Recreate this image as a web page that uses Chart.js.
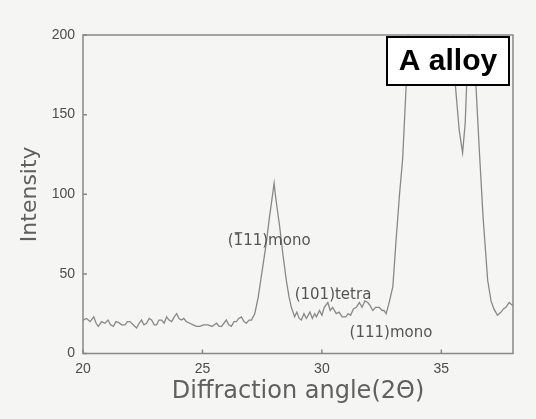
<!DOCTYPE html>
<html>
<head>
<meta charset="utf-8">
<script src="https://cdn.jsdelivr.net/npm/chart.js@4.4.0/dist/chart.umd.min.js"></script>
<style>
  body { margin: 0; background: #f5f5f3; }
  canvas { display: block; }
</style>
</head>
<body>
<canvas id="xrd" width="536" height="419"></canvas>
<script>
  // 회절각 (2θ) 와 강도 값 - 그림에서 읽은 값
  const angles = [
    20.0, 20.15, 20.3, 20.45, 20.55, 20.64, 20.78, 20.92, 21.05, 21.15, 21.27, 21.38, 21.48, 21.62, 21.76, 21.86, 21.96,
    22.1, 22.24, 22.35, 22.45, 22.55, 22.66, 22.77, 22.87, 22.98, 23.08, 23.18, 23.29, 23.4, 23.5, 23.6, 23.71, 23.82, 23.92,
    24.02, 24.12, 24.22, 24.33, 24.47, 24.61, 24.75, 24.89, 25.05, 25.24, 25.4, 25.59, 25.7, 25.8, 25.9, 26.0, 26.1, 26.21,
    26.32, 26.42, 26.52, 26.63, 26.74, 26.84, 26.95, 27.05, 27.12, 27.19, 27.33, 27.5, 27.67, 27.8, 27.92, 28.0, 28.05,
    28.12, 28.23, 28.37, 28.51, 28.62, 28.72, 28.86, 28.95, 29.05, 29.14, 29.25, 29.35, 29.5, 29.6, 29.7, 29.77, 29.9,
    30.0, 30.1, 30.25, 30.35, 30.45, 30.6, 30.72, 30.85, 31.0, 31.1, 31.2, 31.32, 31.44, 31.57, 31.68, 31.8, 31.92, 32.02,
    32.13, 32.25, 32.4, 32.52, 32.6, 32.69, 32.8, 32.97, 33.1, 33.25, 33.38, 33.53, 33.65, 33.8, 34.0, 34.5, 35.0, 35.3,
    35.45, 35.59, 35.75, 35.89, 36.0, 36.1, 36.2, 36.3, 36.45, 36.6, 36.75, 36.94, 37.08, 37.2, 37.35, 37.5, 37.6, 37.7,
    37.84, 38.0
  ];
  const intensity = [
    21, 22, 20, 23, 19, 17, 20, 19, 21, 18, 17, 20, 19.5, 18, 18, 20, 20,
    18, 16, 19, 21, 18, 19, 22, 21, 18, 18, 21, 21, 19, 23, 21, 20, 23, 25,
    22, 21, 22, 20, 19, 18, 17, 17, 18, 18, 17, 19, 17, 17, 19, 21, 18, 17,
    20, 20, 22, 23, 20, 19, 21, 21, 23, 25, 35, 52, 69, 85, 98, 107, 100,
    92, 80, 62, 46, 36, 29, 23, 26, 22, 21, 25, 22, 26, 22, 25, 23, 27,
    24, 29, 32, 27, 29, 25, 26, 23, 23, 25, 24, 28, 29, 32, 29, 33, 32, 30,
    27, 29, 29, 27, 27, 25, 31, 42, 70, 100, 122, 169, 215, 260, 290, 300, 280, 240,
    210, 168, 140, 126, 145, 185, 215, 205, 168, 125, 85, 46, 33, 28, 24, 26, 28, 29,
    32, 30
  ];
  const xTicks = [20, 25, 30, 35];
  const yTicks = [0, 50, 100, 150, 200];

  // 피크 라벨 (데이터 좌표), 첫 라벨은 첫 '1' 위에 윗줄
  const peakLabels = ['(111)mono', '(101)tetra', '(111)mono'];
  const peakBar = [true, false, false];
  const peakX = [26.06, 28.86, 31.16];
  const peakY = [70.8, 36.8, 12.9];
  const alloyName = 'A alloy';

  const gray = '#888';
  const textGray = '#4c4c4c';
  const wideFont = '"DejaVu Sans", Verdana, sans-serif';

  const framePlugin = {
    id: 'frame',
    beforeDraw(chart) {
      const c = chart.ctx;
      c.save();
      c.fillStyle = '#f5f5f3';
      c.fillRect(0, 0, chart.width, chart.height);
      c.restore();
    },
    afterDraw(chart) {
      const c = chart.ctx;
      const a = chart.chartArea;
      const xs = chart.scales.x, ys = chart.scales.y;
      c.save();
      // 테두리
      c.strokeStyle = gray;
      c.lineWidth = 1.5;
      c.strokeRect(a.left, a.top, a.right - a.left, a.bottom - a.top);
      // 안쪽 눈금
      c.beginPath();
      xTicks.forEach(v => {
        const px = xs.getPixelForValue(v);
        c.moveTo(px, a.bottom);
        c.lineTo(px, a.bottom - 4);
      });
      yTicks.forEach(v => {
        const py = ys.getPixelForValue(v);
        c.moveTo(a.left, py);
        c.lineTo(a.left + 4, py);
      });
      c.stroke();
      // 피크 라벨
      c.fillStyle = '#555';
      c.strokeStyle = '#555';
      c.lineWidth = 1.2;
      c.font = '15px ' + wideFont;
      c.textBaseline = 'middle';
      c.textAlign = 'left';
      peakLabels.forEach((t, i) => {
        const px = xs.getPixelForValue(peakX[i]);
        const py = ys.getPixelForValue(peakY[i]);
        c.fillText(t, px, py);
        if (peakBar[i]) {
          const x0 = px + c.measureText('(').width;
          const x1 = px + c.measureText('(1').width;
          c.beginPath();
          c.moveTo(x0 + 1, py - 8);
          c.lineTo(x1 - 1, py - 8);
          c.stroke();
        }
      });
      // 합금 이름 상자
      c.fillStyle = '#fff';
      c.fillRect(387, 37, 122, 48);
      c.strokeStyle = '#000';
      c.lineWidth = 2;
      c.strokeRect(387, 37, 122, 48);
      c.fillStyle = '#000';
      c.font = 'bold 30px "Liberation Sans", Arial, sans-serif';
      c.textAlign = 'center';
      c.fillText(alloyName, 448, 62);
      c.restore();
    }
  };

  new Chart(document.getElementById('xrd'), {
    type: 'line',
    data: {
      datasets: [{
        data: angles.map((x, i) => ({ x, y: intensity[i] })),
        borderColor: gray,
        borderWidth: 1.3,
        pointRadius: 0,
        tension: 0
      }]
    },
    options: {
      responsive: false,
      animation: false,
      layout: { padding: { top: 35, right: 23, left: 0, bottom: 0 } },
      plugins: { legend: { display: false }, tooltip: { enabled: false } },
      scales: {
        x: {
          type: 'linear',
          min: 20,
          max: 38,
          afterBuildTicks: s => { s.ticks = xTicks.map(v => ({ value: v })); },
          afterFit: s => { s.height = 65.5; },
          grid: { display: false, drawTicks: false },
          border: { display: false },
          ticks: { padding: 7, color: textGray, font: { family: '"Liberation Sans", Arial', size: 14 } },
          title: {
            display: true,
            text: 'Diffraction angle(2\u0398)',
            color: '#606060',
            font: { family: wideFont, size: 24 },
            padding: { top: 4, bottom: 13 }
          }
        },
        y: {
          min: 0,
          max: 200,
          afterBuildTicks: s => { s.ticks = yTicks.map(v => ({ value: v })); },
          afterFit: s => { s.width = 83; },
          grid: { display: false, drawTicks: false },
          border: { display: false },
          ticks: { padding: 8, color: textGray, font: { family: '"Liberation Sans", Arial', size: 14 } },
          title: {
            display: true,
            text: 'Intensity',
            color: '#606060',
            font: { family: wideFont, size: 22 },
            padding: { top: 17, bottom: 4 }
          }
        }
      }
    },
    plugins: [framePlugin]
  });
</script>
</body>
</html>
